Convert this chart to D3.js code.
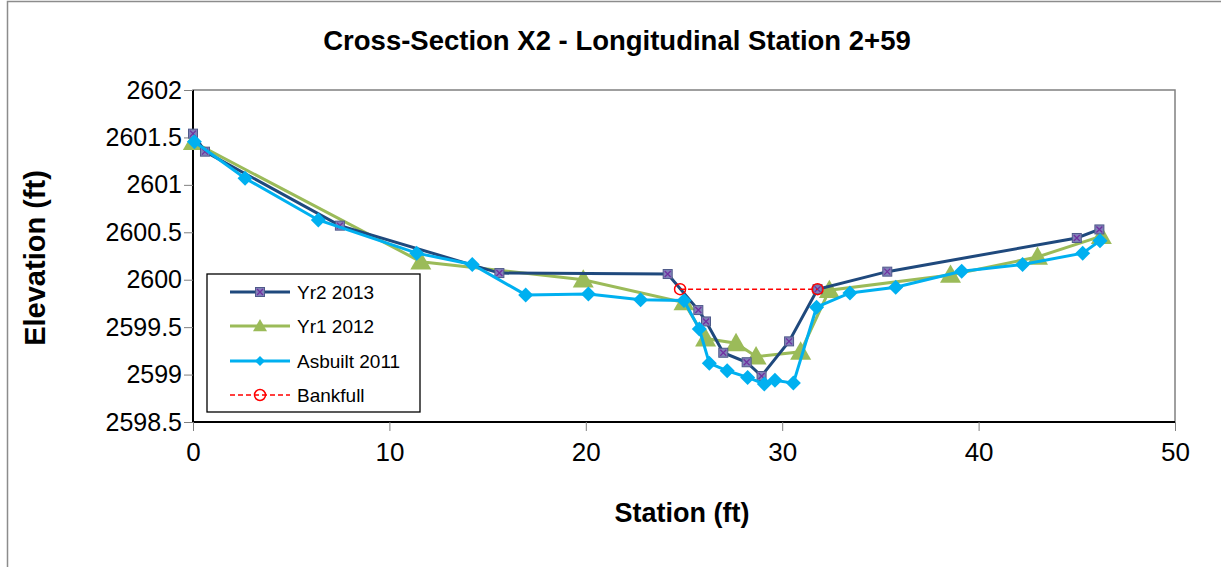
<!DOCTYPE html>
<html><head><meta charset="utf-8">
<script src="https://cdn.jsdelivr.net/npm/d3@7"></script>
<style>body{margin:0;background:#fff;} svg{display:block;font-family:"Liberation Sans",Arial,sans-serif;}</style>
</head><body>
<script>
const yr2Station = [0, 0.61, 7.48, 15.6, 24.17, 25.73, 26.12, 27.0, 28.19, 28.95, 30.35, 31.8, 35.35, 45.0, 46.15];
const yr2Elev    = [2601.54, 2601.35, 2600.57, 2600.07, 2600.06, 2599.68, 2599.56, 2599.23, 2599.13, 2598.985, 2599.35, 2599.90, 2600.085, 2600.44, 2600.53];
const yr1Station = [0.02, 11.6, 19.87, 25.0, 26.1, 27.65, 28.67, 30.94, 32.4, 38.57, 43.0, 46.25];
const yr1Elev    = [2601.45, 2600.19, 2600.00, 2599.76, 2599.38, 2599.33, 2599.19, 2599.24, 2599.89, 2600.05, 2600.24, 2600.46];
const asbStation = [0.07, 2.65, 6.38, 11.39, 14.22, 16.94, 20.13, 22.79, 25.0, 25.78, 26.29, 27.2, 28.24, 29.09, 29.63, 30.57, 31.75, 33.45, 35.78, 39.14, 42.24, 45.3, 46.18];
const asbElev    = [2601.455, 2601.07, 2600.63, 2600.28, 2600.16, 2599.84, 2599.85, 2599.79, 2599.78, 2599.48, 2599.12, 2599.04, 2598.97, 2598.90, 2598.94, 2598.91, 2599.71, 2599.86, 2599.92, 2600.09, 2600.16, 2600.28, 2600.41];
const bankStation = [24.8, 31.8];
const bankElev    = [2599.90, 2599.90];
const xTicks = [0, 10, 20, 30, 40, 50];
const yTicks = [2598.5, 2599, 2599.5, 2600, 2600.5, 2601, 2601.5, 2602];
const seriesNames = ["Yr2 2013", "Yr1 2012", "Asbuilt 2011", "Bankfull"];
const titleText = "Cross-Section X2 - Longitudinal Station 2+59";

const W = 1221, H = 567;
const svg = d3.select("body").append("svg").attr("width", W).attr("height", H);
svg.append("rect").attr("x", 7.5).attr("y", 1.5).attr("width", W + 10).attr("height", H + 10)
  .attr("fill", "#fff").attr("stroke", "#8c8c8c").attr("stroke-width", 1.5);

const x = d3.scaleLinear().domain([0, 50]).range([193, 1175]);
const y = d3.scaleLinear().domain([2598.5, 2602]).range([422, 90]);

svg.append("rect").attr("x", 193).attr("y", 90).attr("width", 982).attr("height", 332)
  .attr("fill", "none").attr("stroke", "#808080").attr("stroke-width", 1.5);

const gx = svg.append("g").attr("transform", "translate(0,422)")
  .call(d3.axisBottom(x).tickValues(xTicks).tickSize(9).tickPadding(12).tickFormat(d3.format("d")));
const gy = svg.append("g").attr("transform", "translate(193,0)")
  .call(d3.axisLeft(y).tickValues(yTicks).tickSize(9).tickPadding(2).tickFormat(d => String(d)));
[gx, gy].forEach(g => {
  g.select(".domain").attr("stroke", "#000").attr("stroke-width", 2);
  g.selectAll(".tick line").attr("stroke", "#808080").attr("stroke-width", 1);
  g.selectAll("text").attr("fill", "#000").attr("font-size", 25).attr("font-family", '"Liberation Sans",Arial,sans-serif');
});
gx.selectAll("text").attr("font-size", 26);
gx.select(".domain").attr("d", "M193,0H1175");
gy.select(".domain").attr("d", "M0,90V422");

svg.append("text").attr("x", 617).attr("y", 50).attr("text-anchor", "middle")
  .attr("font-weight", "bold").attr("font-size", 27.5).text(titleText);
svg.append("text").attr("x", 682).attr("y", 522).attr("text-anchor", "middle")
  .attr("font-weight", "bold").attr("font-size", 27).text("Station (ft)");
svg.append("text").attr("transform", "translate(45,258) rotate(-90)").attr("text-anchor", "middle")
  .attr("font-weight", "bold").attr("font-size", 29).text("Elevation (ft)");

const line = d3.line().x(d => x(d[0])).y(d => y(d[1]));
const zip = (a, b) => a.map((v, i) => [v, b[i]]);
const yr2 = zip(yr2Station, yr2Elev), yr1 = zip(yr1Station, yr1Elev), asb = zip(asbStation, asbElev), bank = zip(bankStation, bankElev);

const C2 = "#1F497D", C1 = "#9BBB59", CA = "#00B0F0", CB = "#FF0000";

function squareMarker(g, cx, cy) {
  g.append("rect").attr("x", cx - 4.5).attr("y", cy - 4.5).attr("width", 9).attr("height", 9)
    .attr("fill", "#8080B8").attr("stroke", "#4F5A8A").attr("stroke-width", 1);
  g.append("path").attr("d", `M${cx-3},${cy-3}L${cx+3},${cy+3}M${cx+3},${cy-3}L${cx-3},${cy+3}`)
    .attr("stroke", "#7030A0").attr("stroke-width", 1.3);
}
function triMarker(g, cx, cy, s) {
  s = s || 10.5;
  g.append("path").attr("d", `M${cx},${cy - s}L${cx + s},${cy + s*0.75}L${cx - s},${cy + s*0.75}Z`).attr("fill", C1);
}
function diaMarker(g, cx, cy, s) {
  s = s || 7.5;
  g.append("path").attr("d", `M${cx},${cy - s}L${cx + s},${cy}L${cx},${cy + s}L${cx - s},${cy}Z`).attr("fill", CA);
}
function circMarker(g, cx, cy) {
  g.append("circle").attr("cx", cx).attr("cy", cy).attr("r", 5.5).attr("fill", "none").attr("stroke", CB).attr("stroke-width", 1.5);
}

const plot = svg.append("g");
plot.append("path").datum(yr1).attr("d", line).attr("fill", "none").attr("stroke", C1).attr("stroke-width", 3);
const m1 = plot.append("g"); yr1.forEach(d => triMarker(m1, x(d[0]), y(d[1])));
plot.append("path").datum(yr2).attr("d", line).attr("fill", "none").attr("stroke", C2).attr("stroke-width", 3);
const m2 = plot.append("g"); yr2.forEach(d => squareMarker(m2, x(d[0]), y(d[1])));
plot.append("path").datum(asb).attr("d", line).attr("fill", "none").attr("stroke", CA).attr("stroke-width", 3);
const ma = plot.append("g"); asb.forEach(d => diaMarker(ma, x(d[0]), y(d[1])));
plot.append("path").datum(bank).attr("d", line).attr("fill", "none").attr("stroke", CB).attr("stroke-width", 1.5).attr("stroke-dasharray", "5,3");
const mb = plot.append("g"); bank.forEach(d => circMarker(mb, x(d[0]), y(d[1])));

const lg = svg.append("g");
lg.append("rect").attr("x", 207).attr("y", 274).attr("width", 213).attr("height", 138)
  .attr("fill", "#fff").attr("stroke", "#000").attr("stroke-width", 1.3);
const rows = [292, 326, 361, 395];
const lcolors = [C2, C1, CA, CB];
seriesNames.forEach((n, i) => {
  const ry = rows[i];
  lg.append("line").attr("x1", 230).attr("x2", 290).attr("y1", ry).attr("y2", ry)
    .attr("stroke", lcolors[i]).attr("stroke-width", i === 3 ? 1.5 : 3)
    .attr("stroke-dasharray", i === 3 ? "5,3" : null);
  if (i === 0) squareMarker(lg, 260, ry);
  if (i === 1) triMarker(lg, 260, ry, 7);
  if (i === 2) diaMarker(lg, 260, ry, 5);
  if (i === 3) circMarker(lg, 260, ry);
  lg.append("text").attr("x", 297).attr("y", ry + 7).attr("font-size", 19).attr("fill", "#000").text(n);
});
</script>
</body></html>
